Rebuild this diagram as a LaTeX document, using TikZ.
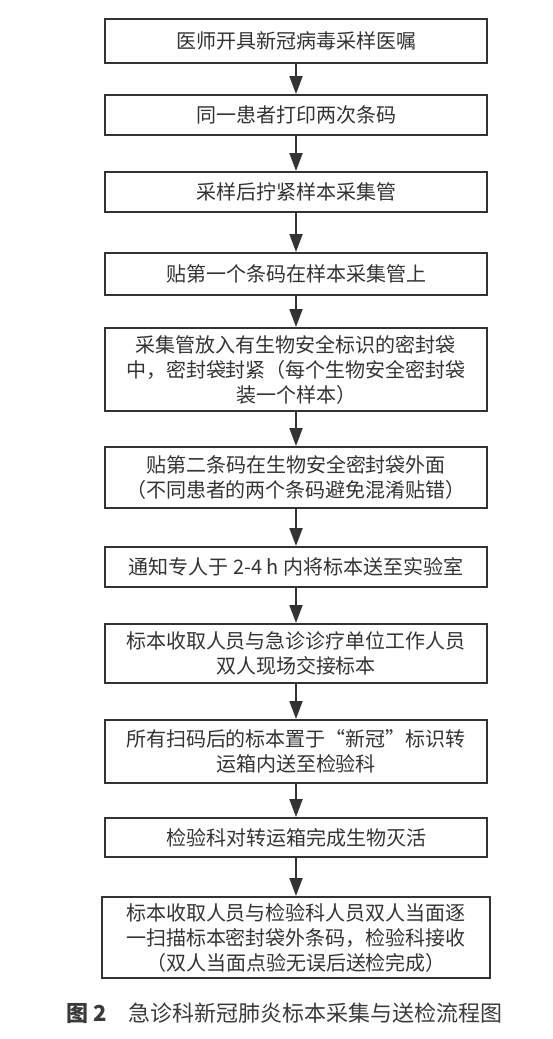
\documentclass[tikz,border=0pt]{standalone}
\usepackage{fontspec}
\usepackage{tikz}
\usetikzlibrary{arrows.meta, positioning}
\newfontfamily\cjk{Noto Sans CJK SC}
\definecolor{boxline}{HTML}{333333}
\definecolor{boxtext}{HTML}{333333}
\definecolor{captext}{HTML}{3A3A3A}

\begin{document}
\begin{tikzpicture}[
    x=0.5pt, y=-0.5pt,
    flowbox/.style={draw=boxline, line width=1pt, minimum width=191pt, inner sep=0pt,
      align=center, text=boxtext, font=\cjk\fontsize{10pt}{12.5pt}\selectfont},
    arrow/.style={-{Triangle[length=9pt, width=6.5pt]}, line width=1pt, boxline},
]
    \useasboundingbox (0,0) rectangle (552,1039);

    % Sampling steps
    \node[flowbox, minimum height=22pt] (s1) at (296,41) {医师开具新冠病毒采样医嘱};
    \node[flowbox, minimum height=20pt] (s2) at (296,115) {同一患者打印两次条码};
    \node[flowbox, minimum height=20pt] (s3) at (296,192) {采样后拧紧样本采集管};
    \node[flowbox, minimum height=21pt] (s4) at (296,274) {贴第一个条码在样本采集管上};
    \node[flowbox, minimum height=41.5pt] (s5) at (296,369.5) {采集管放入有生物安全标识的密封袋\\中，密封袋封紧（每个生物安全密封袋\\装一个样本）};
    \node[flowbox, minimum height=30.5pt] (s6) at (296,477.5) {贴第二条码在生物安全密封袋外面\\（不同患者的两个条码避免混淆贴错）};

    % Transport steps
    \node[flowbox, minimum height=20pt] (s7) at (296,567) {通知专人于 2-4 h 内将标本送至实验室};
    \node[flowbox, minimum height=29.5pt] (s8) at (296,653.5) {标本收取人员与急诊诊疗单位工作人员\\双人现场交接标本};
    \node[flowbox, minimum height=31.5pt] (s9) at (296,751.5) {所有扫码后的标本置于“新冠”标识转\\运箱内送至检验科};
    \node[flowbox, minimum height=19.5pt] (s10) at (296,837.5) {检验科对转运箱完成生物灭活};
    \node[flowbox, minimum height=40.5pt, minimum width=194pt] (s11) at (296,937.5) {标本收取人员与检验科人员双人当面逐\\一扫描标本密封袋外条码，检验科接收\\（双人当面点验无误后送检完成）};

    % Flow arrows
    \draw[arrow] (s1) -- (s2);
    \draw[arrow] (s2) -- (s3);
    \draw[arrow] (s3) -- (s4);
    \draw[arrow] (s4) -- (s5);
    \draw[arrow] (s5) -- (s6);
    \draw[arrow] (s6) -- (s7);
    \draw[arrow] (s7) -- (s8);
    \draw[arrow] (s8) -- (s9);
    \draw[arrow] (s9) -- (s10);
    \draw[arrow] (s10) -- (s11);

    % Caption
    \node[anchor=west, inner sep=0pt, text=captext, font=\cjk\fontsize{11pt}{13pt}\selectfont] (caption) at (66,1013)
      {\textbf{图 2}\hspace{11pt}急诊科新冠肺炎标本采集与送检流程图};
\end{tikzpicture}
\end{document}
